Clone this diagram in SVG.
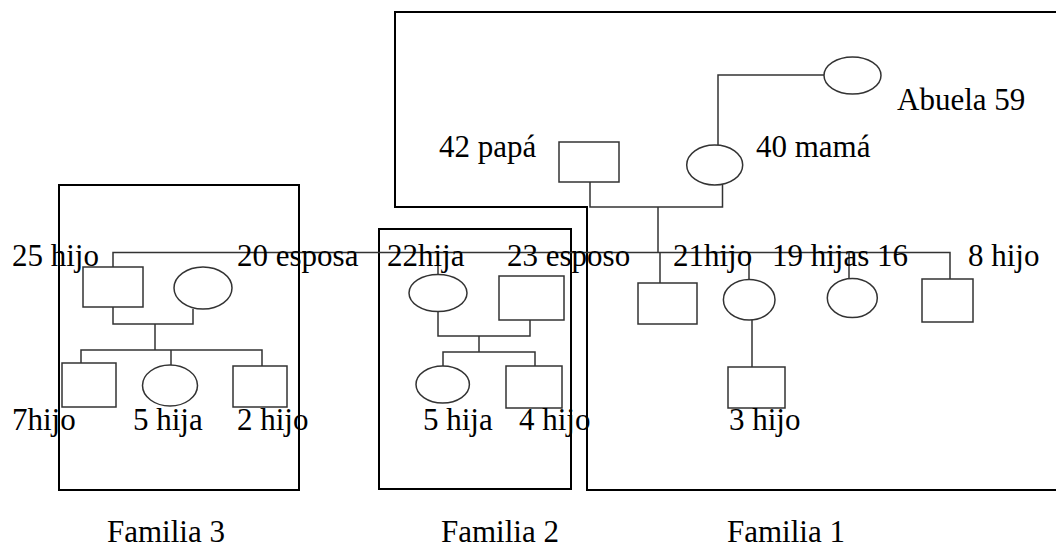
<svg xmlns="http://www.w3.org/2000/svg" width="1056" height="548" viewBox="0 0 1056 548">
<style>
.frame{fill:none;stroke:#000;stroke-width:2}
.ln{fill:none;stroke:#333;stroke-width:1.5}
.sh{fill:#fff;stroke:#333;stroke-width:1.5}
text{font-family:"Liberation Serif","Times New Roman",serif;font-size:31px;fill:#000}
</style>
<rect width="1056" height="548" fill="#fff"/>
<g id="frames">
<path class="frame" d="M1058,12 H395 V207 H587 V490 H1058"/>
<rect id="frame-f2" class="frame" x="379" y="229" width="192" height="260"/>
<rect id="frame-f3" class="frame" x="59" y="185" width="240" height="305"/>
</g>
<g id="connectors">
<path class="ln" d="M824,75 H718 V145"/>
<path class="ln" d="M590,182 V207 H722.5 V185"/>
<path class="ln" d="M658,207 V252.5"/>
<path class="ln" d="M113,267 V252.5 H950 V279"/>
<path class="ln" d="M660,252.5 V283"/>
<path class="ln" d="M749,252.5 V279.5"/>
<path class="ln" d="M849,252.5 V278.5"/>
<path class="ln" d="M752,320 V367"/>
<path class="ln" d="M438,252.5 V274.5"/>
<path class="ln" d="M113,307 V324 H193 V309"/>
<path class="ln" d="M155,324 V350"/>
<path class="ln" d="M81,363 V350 H262 V366"/>
<path class="ln" d="M171,350 V365"/>
<path class="ln" d="M438,311.5 V336 H530 V320"/>
<path class="ln" d="M479,336 V352"/>
<path class="ln" d="M443,366 V352 H535 V366"/>
</g>
<g id="abuela"><ellipse class="sh" cx="852.5" cy="75.5" rx="28.5" ry="18.5"/><text x="897" y="110">Abuela 59</text></g>
<g id="papa"><rect class="sh" x="559" y="142" width="60" height="40"/><text x="439" y="157">42 papá</text></g>
<g id="mama"><ellipse class="sh" cx="714.7" cy="165" rx="28" ry="20"/><text x="756" y="157">40 mamá</text></g>
<g id="hijo21"><rect class="sh" x="638" y="283" width="59" height="41"/><text x="673" y="266">21hijo</text></g>
<g id="hija19"><ellipse class="sh" cx="749.2" cy="299.7" rx="25.8" ry="20.3"/><text x="772" y="266">19 hijas 16</text></g>
<g id="hija16"><ellipse class="sh" cx="852.3" cy="298" rx="25" ry="19.5"/></g>
<g id="hijo8"><rect class="sh" x="922" y="279" width="51" height="43"/><text x="968" y="266">8 hijo</text></g>
<g id="hijo3"><rect class="sh" x="728" y="367" width="57" height="41"/><text x="729" y="430">3 hijo</text></g>
<g id="hija22"><ellipse class="sh" cx="438" cy="293" rx="29" ry="18.5"/><text x="387" y="266">22hija</text></g>
<g id="esposo23"><rect class="sh" x="499" y="276" width="65" height="44"/><text x="507" y="266">23 esposo</text></g>
<g id="f2-hija5"><ellipse class="sh" cx="442.7" cy="384.5" rx="26.7" ry="18.5"/><text x="423" y="430">5 hija</text></g>
<g id="f2-hijo4"><rect class="sh" x="506" y="366" width="56" height="42"/><text x="519" y="430">4 hijo</text></g>
<g id="hijo25"><rect class="sh" x="83" y="267" width="60" height="40"/><text x="12" y="266">25 hijo</text></g>
<g id="esposa20"><ellipse class="sh" cx="203" cy="288" rx="29" ry="21"/><text x="237" y="266">20 esposa</text></g>
<g id="f3-hijo7"><rect class="sh" x="62" y="363" width="54" height="44"/><text x="12" y="430">7hijo</text></g>
<g id="f3-hija5"><ellipse class="sh" cx="170" cy="385.5" rx="27.5" ry="20.5"/><text x="133" y="430">5 hija</text></g>
<g id="f3-hijo2"><rect class="sh" x="233" y="366" width="54" height="41"/><text x="237" y="430">2 hijo</text></g>
<g id="labels">
<text x="107" y="542">Familia 3</text>
<text x="441" y="542">Familia 2</text>
<text x="727" y="542">Familia 1</text>
</g>
</svg>
